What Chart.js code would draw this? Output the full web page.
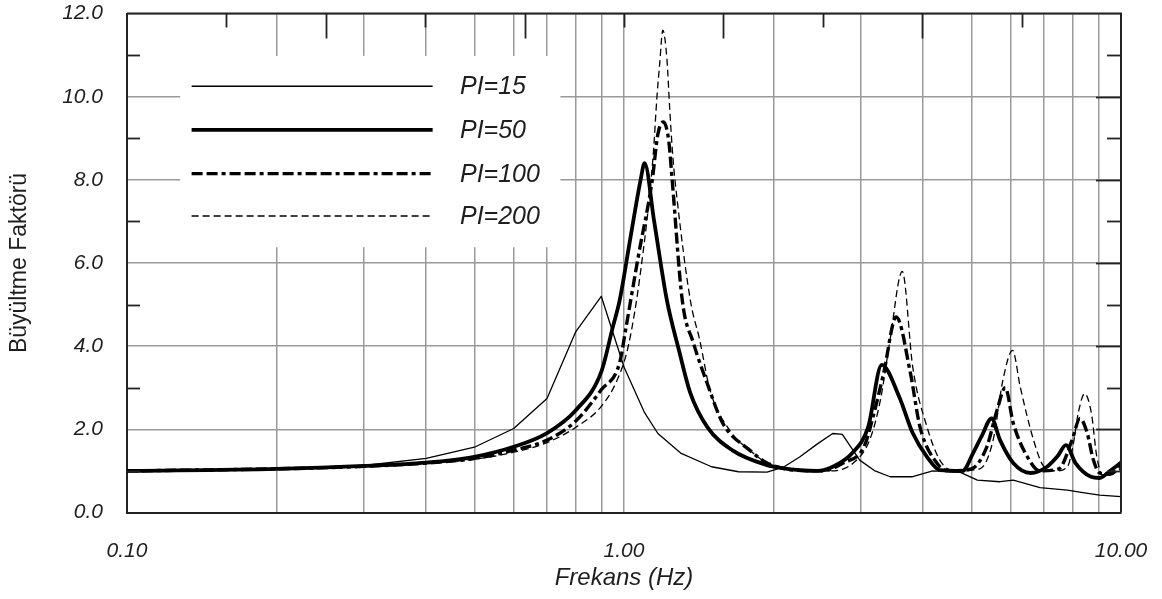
<!DOCTYPE html>
<html>
<head>
<meta charset="utf-8">
<script src="https://cdn.jsdelivr.net/npm/chart.js@4.4.0/dist/chart.umd.min.js"></script>
<style>
html,body{margin:0;padding:0;background:#fff;}
#wrap{width:1162px;height:599px;position:relative;}
</style>
</head>
<body>
<div id="wrap"><canvas id="c" width="1162" height="599"></canvas></div>
<script>
// ---------- DATA ----------
const seriesLabels = ['PI=15', 'PI=50', 'PI=100', 'PI=200'];

const freq15 = [0.1, 0.15, 0.2, 0.3, 0.4, 0.5, 0.6, 0.7, 0.8, 0.9, 1.0, 1.1, 1.17, 1.3, 1.5, 1.7, 1.94, 2.1, 2.26, 2.45, 2.63, 2.75, 2.98, 3.2, 3.43, 3.81, 4.18, 4.74, 5.14, 5.71, 6.07, 6.87, 7.8, 8.38, 9.06, 10];
const amp15  = [1.0, 1.02, 1.05, 1.13, 1.3, 1.57, 2.02, 2.74, 4.35, 5.2, 3.5, 2.4, 1.9, 1.43, 1.1, 0.98, 0.97, 1.1, 1.34, 1.65, 1.9, 1.88, 1.26, 1.0, 0.86, 0.86, 1.0, 0.97, 0.78, 0.74, 0.78, 0.6, 0.54, 0.48, 0.42, 0.38];

const freq50 = [0.1, 0.2, 0.3, 0.4, 0.5, 0.6, 0.7, 0.8, 0.9, 0.95, 0.98, 1.03, 1.08, 1.10, 1.15, 1.22, 1.29, 1.36, 1.47, 1.65, 1.94, 2.08, 2.26, 2.45, 2.63, 2.88, 3.1, 3.3, 3.58, 3.81, 4.07, 4.32, 4.8, 5.04, 5.25, 5.49, 5.71, 6.07, 6.58, 7.1, 7.45, 7.75, 8.1, 8.7, 9.06, 9.5, 10];
const amp50  = [1.0, 1.05, 1.12, 1.2, 1.34, 1.58, 1.91, 2.46, 3.38, 4.47, 5.1, 6.6, 8.0, 8.4, 7.0, 5.1, 3.9, 2.87, 2.06, 1.5, 1.14, 1.07, 1.02, 1.0, 1.1, 1.43, 2.06, 3.55, 2.78, 1.91, 1.34, 1.02, 1.0, 1.43, 1.85, 2.26, 1.74, 1.19, 0.95, 1.1, 1.35, 1.62, 1.19, 0.86, 0.83, 1.0, 1.2];

const freq100 = [0.1, 0.2, 0.3, 0.4, 0.5, 0.6, 0.7, 0.8, 0.9, 0.98, 1.01, 1.07, 1.14, 1.17, 1.2, 1.23, 1.25, 1.31, 1.38, 1.47, 1.58, 1.79, 1.94, 2.2, 2.5, 2.76, 3.04, 3.17, 3.33, 3.53, 3.77, 3.94, 4.26, 4.5, 5.0, 5.37, 5.63, 5.85, 6.07, 6.48, 6.87, 7.5, 7.97, 8.27, 8.55, 8.8, 9.06, 9.5, 10];
const amp100  = [1.0, 1.05, 1.11, 1.19, 1.3, 1.5, 1.74, 2.2, 2.95, 3.6, 4.47, 6.2, 8.0, 9.1, 9.39, 8.95, 8.0, 5.1, 4.07, 3.11, 2.15, 1.5, 1.19, 1.02, 1.0, 1.19, 1.58, 2.3, 3.35, 4.7, 3.35, 2.06, 1.19, 1.0, 1.05, 1.58, 2.46, 3.0, 2.15, 1.34, 1.0, 1.05, 1.74, 2.26, 1.91, 1.26, 0.95, 0.92, 1.12];

const freq200 = [0.1, 0.2, 0.3, 0.4, 0.5, 0.6, 0.7, 0.8, 0.9, 0.97, 1.02, 1.08, 1.144, 1.165, 1.18, 1.197, 1.22, 1.236, 1.254, 1.277, 1.36, 1.42, 1.49, 1.65, 1.79, 1.94, 2.2, 2.6, 2.9, 3.12, 3.28, 3.43, 3.63, 3.81, 4.07, 4.32, 4.6, 5.2, 5.53, 5.79, 6.05, 6.27, 6.67, 7.0, 7.4, 7.8, 8.0, 8.2, 8.45, 8.72, 8.94, 9.2, 9.5, 10];
const amp200  = [1.0, 1.05, 1.1, 1.18, 1.28, 1.45, 1.68, 2.05, 2.55, 3.2, 4.0, 5.8, 8.55, 10.0, 10.8, 11.6, 10.9, 9.7, 8.55, 7.6, 5.1, 4.15, 2.94, 1.9, 1.5, 1.19, 1.02, 1.0, 1.2, 1.74, 2.7, 4.15, 5.8, 3.5, 2.06, 1.26, 1.0, 1.05, 1.74, 3.2, 3.9, 3.02, 1.74, 1.1, 1.0, 1.1, 1.58, 2.38, 2.86, 2.38, 1.34, 0.9, 0.93, 1.05];

const xGridValues = [0.1, 0.2, 0.3, 0.4, 0.5, 0.6, 0.7, 0.8, 0.9, 1, 2, 3, 4, 5, 6, 7, 8, 9, 10];
const xLabelValues = [0.1, 1, 10];
const xLabelTexts = ['0.10', '1.00', '10.00'];
const xTitle = 'Frekans (Hz)';
const yTitle = 'Büyültme Faktörü';
// -------------------------

function pts(xs, ys) { return xs.map((x, i) => ({ x: x, y: ys[i] })); }

const FONT = "'Liberation Sans', Arial, Helvetica, sans-serif";
const TXT = '#1e1e1e';
const GRID = '#9a9a9a';
const AXIS = '#222';

const datasets = [
  { label: seriesLabels[0], data: pts(freq15, amp15), borderWidth: 1.3, borderDash: [] },
  { label: seriesLabels[1], data: pts(freq50, amp50), borderWidth: 3.8, borderDash: [], cubicInterpolationMode: 'monotone' },
  { label: seriesLabels[2], data: pts(freq100, amp100), borderWidth: 3.4, borderDash: [11, 4, 11, 4, 4, 4], cubicInterpolationMode: 'monotone' },
  { label: seriesLabels[3], data: pts(freq200, amp200), borderWidth: 1.3, borderDash: [7, 4], cubicInterpolationMode: 'monotone' }
].map(d => Object.assign({
  borderColor: '#000', backgroundColor: '#000', pointRadius: 0, tension: 0.4,
  fill: false, borderJoinStyle: 'round', borderCapStyle: 'butt'
}, d));
datasets[0].tension = 0;

function zeroPad(scale) {
  scale.paddingTop = 0; scale.paddingBottom = 0;
  scale.paddingLeft = 0; scale.paddingRight = 0;
}

const framePlugin = {
  id: 'frame',
  afterDatasetsDraw(chart) {
    const ctx = chart.ctx;
    const a = chart.chartArea;
    const xs = chart.scales.x, ys = chart.scales.y;
    ctx.save();
    // legend box (covers grid)
    const bx0 = xs.getPixelForValue(0.1 * Math.pow(10, 0.107));
    const bx1 = xs.getPixelForValue(0.1 * Math.pow(10, 0.872));
    const by0 = ys.getPixelForValue(10.98);
    const by1 = ys.getPixelForValue(6.38);
    ctx.fillStyle = '#fff';
    ctx.fillRect(bx0, by0, bx1 - bx0, by1 - by0);
    // legend entries
    const lx0 = xs.getPixelForValue(0.1 * Math.pow(10, 0.13));
    const lx1 = xs.getPixelForValue(0.1 * Math.pow(10, 0.615));
    const tx = xs.getPixelForValue(0.1 * Math.pow(10, 0.67));
    const rows = [10.25, 9.2, 8.15, 7.13];
    chart.data.datasets.forEach((d, i) => {
      const y = ys.getPixelForValue(rows[i]);
      ctx.beginPath();
      ctx.strokeStyle = '#000';
      ctx.lineWidth = d.borderWidth;
      ctx.setLineDash(d.borderDash || []);
      ctx.moveTo(lx0, y);
      ctx.lineTo(lx1, y);
      ctx.stroke();
      ctx.setLineDash([]);
      ctx.fillStyle = TXT;
      ctx.font = 'italic 25px ' + FONT;
      ctx.textAlign = 'left';
      ctx.textBaseline = 'middle';
      ctx.fillText(d.label, tx, y + 1);
    });
    // top & right border
    ctx.strokeStyle = AXIS;
    ctx.lineWidth = 2;
    ctx.beginPath();
    ctx.moveTo(a.left, a.top); ctx.lineTo(a.right, a.top); ctx.lineTo(a.right, a.bottom);
    ctx.stroke();
    // top ticks (every 0.2 decade)
    ctx.lineWidth = 1.8;
    for (let k = 1; k <= 9; k++) {
      const px = Math.round(xs.getPixelForValue(0.1 * Math.pow(10, 0.2 * k))) + 0.5;
      const len = (k % 2 === 0) ? 25 : 14;
      ctx.beginPath(); ctx.moveTo(px, a.top); ctx.lineTo(px, a.top + len); ctx.stroke();
    }
    // y minor/major ticks on left/right
    for (let v = 1; v <= 11; v++) {
      const py = Math.round(ys.getPixelForValue(v)) + 0.5;
      const rl = (v % 2 === 0) ? 25 : 14;
      ctx.beginPath(); ctx.moveTo(a.right, py); ctx.lineTo(a.right - rl, py); ctx.stroke();
      if (v % 2 === 1) {
        ctx.beginPath(); ctx.moveTo(a.left, py); ctx.lineTo(a.left + 13, py); ctx.stroke();
      }
    }
    ctx.restore();
  }
};

new Chart(document.getElementById('c'), {
  type: 'line',
  data: { datasets: datasets },
  plugins: [framePlugin],
  options: {
    responsive: false,
    animation: false,
    devicePixelRatio: 1,
    layout: { padding: { top: 13.5, right: 41, left: 0, bottom: 0 } },
    plugins: { legend: { display: false }, tooltip: { enabled: false } },
    scales: {
      x: {
        type: 'logarithmic',
        position: 'bottom',
        min: 0.1, max: 10,
        afterBuildTicks(scale) { scale.ticks = xGridValues.map(v => ({ value: v })); },
        afterFit(scale) { scale.height = 86.5; zeroPad(scale); },
        grid: { color: GRID, lineWidth: 1.5, drawTicks: false },
        border: { display: true, color: AXIS, width: 2 },
        ticks: {
          autoSkip: false, maxRotation: 0, minRotation: 0, padding: 26,
          color: TXT, font: { family: FONT, size: 21, style: 'italic' },
          callback(value) {
            const i = xLabelValues.findIndex(v => Math.abs(v - value) < 1e-9);
            return i >= 0 ? xLabelTexts[i] : '';
          }
        },
        title: {
          display: true, text: xTitle, color: TXT,
          font: { family: FONT, size: 24, style: 'italic' },
          padding: { top: 0, bottom: 6 }
        }
      },
      y: {
        type: 'linear',
        min: 0, max: 12,
        afterFit(scale) { scale.width = 127; zeroPad(scale); },
        grid: {
          color: (c) => (c.tick && Math.round(c.tick.value) % 2 === 0) ? GRID : 'rgba(0,0,0,0)',
          lineWidth: 1.5, drawTicks: false
        },
        border: { display: true, color: AXIS, width: 2 },
        ticks: {
          stepSize: 1, padding: 24, color: TXT,
          font: { family: FONT, size: 21, style: 'italic' },
          callback(value) { return (Math.round(value) % 2 === 0) ? value.toFixed(1) : ''; }
        },
        title: {
          display: true, text: yTitle, color: TXT,
          font: { family: FONT, size: 23 },
          padding: { top: 6, bottom: 0 }
        }
      }
    }
  }
});
</script>
</body>
</html>
